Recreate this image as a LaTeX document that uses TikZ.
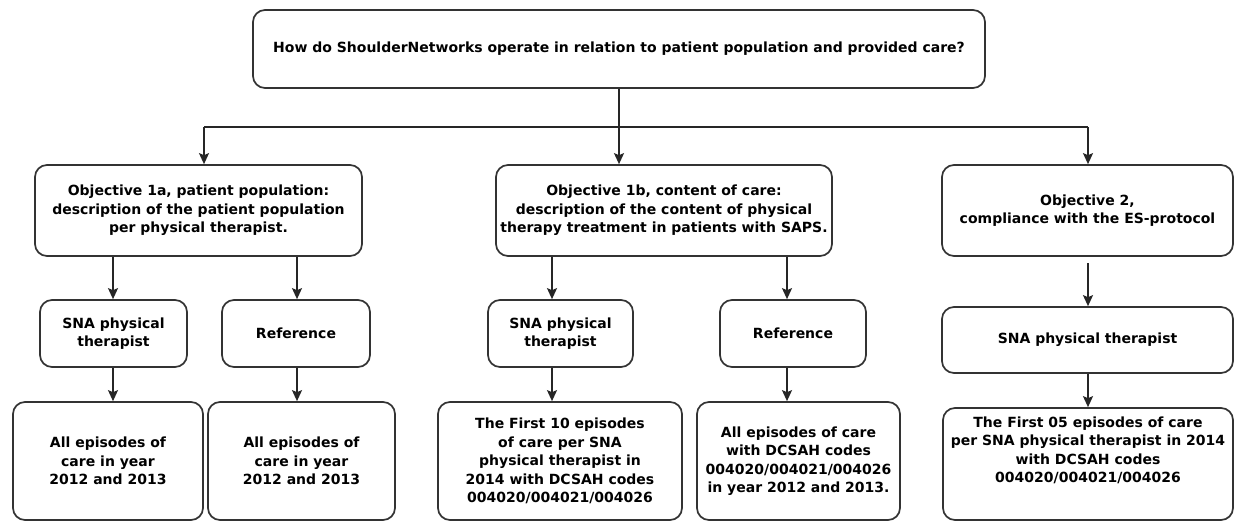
\documentclass[tikz,border=0pt]{standalone}
\usepackage{fontspec}
\setmainfont{DejaVu Sans}
\usetikzlibrary{arrows.meta}

\begin{document}
\begin{tikzpicture}[x=1pt,y=-1pt,
    box/.style={draw=black!80, line width=1.7pt, rounded corners=12pt, fill=white,
        align=center, inner sep=2pt,
        font=\fontsize{14}{18.5}\selectfont\bfseries},
    arr/.style={draw=black!85, line width=1.7pt, -{Stealth[length=11pt,width=10pt,inset=2pt]}},
    wire/.style={draw=black!85, line width=1.7pt}
]
\useasboundingbox (0,0) rectangle (1234,522);
% Question
\node[box, minimum width=732pt, minimum height=78pt] (q) at (619,49)
    {How do ShoulderNetworks operate in relation to patient population and provided care?};
% Objectives
\node[box, minimum width=327pt, minimum height=91pt] (o1a) at (198.5,210.5)
    {Objective 1a, patient population:\\description of the patient population\\per physical therapist.};
\node[box, minimum width=336pt, minimum height=91pt] (o1b) at (664,210.5)
    {Objective 1b, content of care:\\description of the content of physical\\therapy treatment in patients with SAPS.};
\node[box, minimum width=291pt, minimum height=91pt] (o2) at (1087.5,210.5)
    {Objective 2,\\compliance with the ES-protocol};
% Groups
\node[box, minimum width=147pt, minimum height=67pt] (s1a) at (113.5,333.5) {SNA physical\\therapist};
\node[box, minimum width=148pt, minimum height=67pt] (r1a) at (296,333.5) {Reference};
\node[box, minimum width=145pt, minimum height=67pt] (s1b) at (560.5,333.5) {SNA physical\\therapist};
\node[box, minimum width=146pt, minimum height=67pt] (r1b) at (793,333.5) {Reference};
\node[box, minimum width=291pt, minimum height=66pt] (s2) at (1087.5,340) {SNA physical therapist};
% Episodes
\node[box, minimum width=190pt, minimum height=118pt] (e1a) at (108,461)
    {All episodes of\\care in year\\2012 and 2013};
\node[box, minimum width=187pt, minimum height=118pt] (er1a) at (301.5,461)
    {All episodes of\\care in year\\2012 and 2013};
\node[box, minimum width=244pt, minimum height=118pt] (e1b) at (560,461)
    {The First 10 episodes\\of care per SNA\\physical therapist in\\2014 with DCSAH codes\\004020/004021/004026};
\node[box, minimum width=203pt, minimum height=118pt] (er1b) at (798.5,461)
    {All episodes of care\\with DCSAH codes\\004020/004021/004026\\in year 2012 and 2013.};
\node[box, minimum width=290pt, minimum height=112pt] (e2) at (1088,464)
    {The First 05 episodes of care\\per SNA physical therapist in 2014\\with DCSAH codes\\004020/004021/004026\\[10pt]};
% Columns of the arrows
\coordinate (bus) at (619,127);
\coordinate (c0) at (204,0);
\coordinate (c1) at (113,0);
\coordinate (c2) at (297,0);
\coordinate (c3) at (552,0);
\coordinate (c4) at (787,0);
\coordinate (c5) at (1088,0);
\coordinate (g5) at (1088,263);
% Connectors
\draw[wire] (q.south) -- (bus);
\draw[wire] (c0 |- bus) -- (c5 |- bus);
\draw[arr] (c0 |- bus) -- (c0 |- o1a.north);
\draw[arr] (bus) -- (bus |- o1b.north);
\draw[arr] (c5 |- bus) -- (c5 |- o2.north);
\draw[arr] (c1 |- o1a.south) -- (c1 |- s1a.north);
\draw[arr] (c2 |- o1a.south) -- (c2 |- r1a.north);
\draw[arr] (c3 |- o1b.south) -- (c3 |- s1b.north);
\draw[arr] (c4 |- o1b.south) -- (c4 |- r1b.north);
\draw[arr] (g5) -- (c5 |- s2.north);
\draw[arr] (c1 |- s1a.south) -- (c1 |- e1a.north);
\draw[arr] (c2 |- r1a.south) -- (c2 |- er1a.north);
\draw[arr] (c3 |- s1b.south) -- (c3 |- e1b.north);
\draw[arr] (c4 |- r1b.south) -- (c4 |- er1b.north);
\draw[arr] (c5 |- s2.south) -- (c5 |- e2.north);
\end{tikzpicture}
\end{document}
